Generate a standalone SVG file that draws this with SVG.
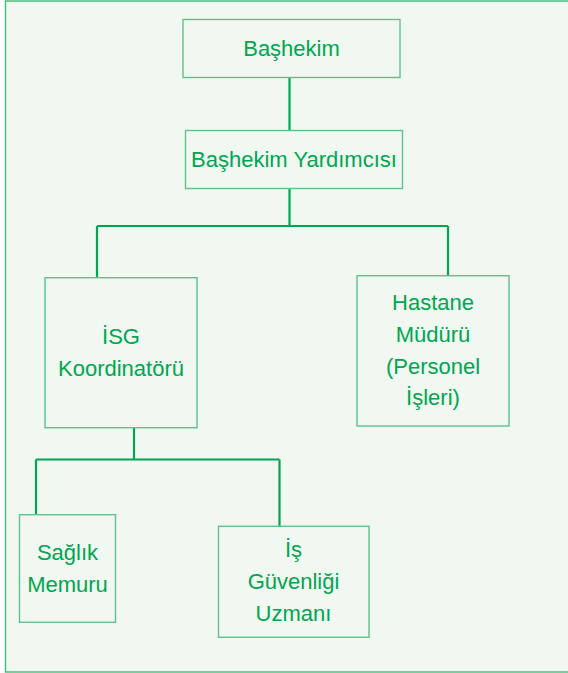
<svg xmlns="http://www.w3.org/2000/svg" width="568" height="673" viewBox="0 0 568 673">
<style>
.bg{fill:#f1f7f1;stroke:#4cbf7e;stroke-width:1.5}
.box{fill:#f1f7f1;stroke:#5ec48a;stroke-width:1.4}
.ln{fill:none;stroke:#00a650;stroke-width:2.2}
text{font-family:"Liberation Sans",Arial,sans-serif;font-size:22px;fill:#00a650;text-anchor:middle}
</style>
<rect class="bg" x="5.5" y="1" width="570" height="671"/>
<g id="connectors">
<path class="ln" d="M289.5 78V130"/>
<path class="ln" d="M289.5 188V226M97 226H448M97 226V277.7M448 226V275.7"/>
<path class="ln" d="M134 428V459.5M36 459.5H279.5M36 459.5V514.7M279.5 459.5V526.3"/>
</g>
<g id="n-bashekim">
<rect class="box" x="183" y="19.5" width="217" height="58"/>
<text x="291.5" y="56">Başhekim</text>
</g>
<g id="n-yardimcisi">
<rect class="box" x="185.5" y="130.5" width="217" height="58"/>
<text x="294" y="166.5">Başhekim Yardımcısı</text>
</g>
<g id="n-isg">
<rect class="box" x="45" y="277.7" width="152" height="150"/>
<text x="121" y="344">İSG</text>
<text x="121" y="376">Koordinatörü</text>
</g>
<g id="n-hastane">
<rect class="box" x="357" y="275.7" width="152" height="150.3"/>
<text x="433" y="310">Hastane</text>
<text x="433" y="341.5">Müdürü</text>
<text x="433" y="373.5">(Personel</text>
<text x="433" y="405">İşleri)</text>
</g>
<g id="n-saglik">
<rect class="box" x="19.5" y="514.7" width="96" height="107.6"/>
<text x="67.5" y="560">Sağlık</text>
<text x="67.5" y="591.5">Memuru</text>
</g>
<g id="n-is">
<rect class="box" x="218.5" y="526.3" width="150.5" height="111"/>
<text x="293.5" y="556.5">İş</text>
<text x="293.5" y="588.5">Güvenliği</text>
<text x="293.5" y="621">Uzmanı</text>
</g>
</svg>
